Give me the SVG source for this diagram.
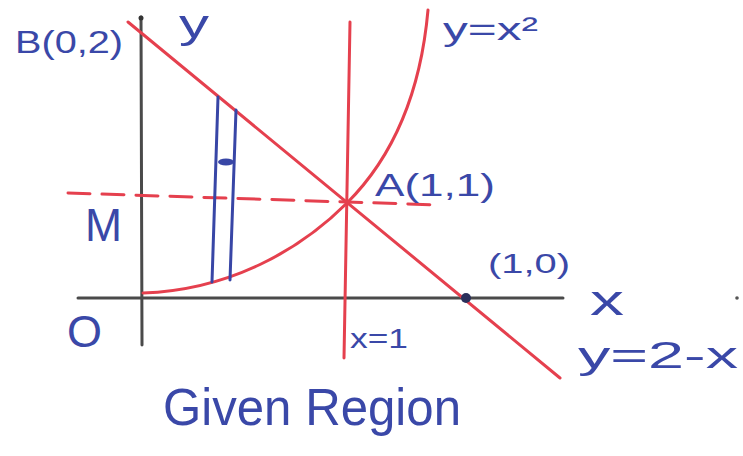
<svg xmlns="http://www.w3.org/2000/svg" width="743" height="456" viewBox="0 0 743 456">
<style>
.ax{stroke:#4a4a4a;stroke-width:3;fill:none;stroke-linecap:round}
.rd{stroke:#e5404e;stroke-width:3;fill:none;stroke-linecap:round}
.bl{stroke:#3846a6;stroke-width:3;fill:none;stroke-linecap:round}
text{font-family:"Liberation Sans",Arial,sans-serif;fill:#3a48a8}
</style>
<rect width="743" height="456" fill="#ffffff"/>
<g id="axes">
<line class="ax" x1="141" y1="17" x2="142" y2="345"/>
<circle cx="141" cy="18" r="2.5" fill="#333"/>
<line class="ax" x1="78" y1="298" x2="563" y2="298"/>
</g>
<g id="curves">
<line class="rd" x1="128" y1="22" x2="560" y2="378"/>
<line class="rd" x1="350" y1="22" x2="344" y2="358"/>
<path class="rd" d="M143,293 C230,290 300,250 347,203 C390,160 420,100 428,10"/>
<path class="rd" d="M68,193 L440,205" stroke-dasharray="22,12"/>
</g>
<g id="strip">
<line class="bl" x1="218" y1="97" x2="212" y2="282"/>
<line class="bl" x1="236" y1="110" x2="230" y2="280"/>
<ellipse cx="226" cy="162" rx="8" ry="3.5" fill="#3846a6"/>
</g>
<g id="points">
<circle cx="466" cy="298" r="5" fill="#2a2f5a"/>
<circle cx="737" cy="298" r="1.8" fill="#555"/>
</g>
<g id="labels">
<text x="15" y="53" font-size="32" textLength="108" lengthAdjust="spacingAndGlyphs">B(0,2)</text>
<text x="179" y="38" font-size="40" textLength="30" lengthAdjust="spacingAndGlyphs">y</text>
<text x="443" y="40" font-size="32" textLength="95" lengthAdjust="spacingAndGlyphs">y=x²</text>
<text x="375" y="196" font-size="32" textLength="120" lengthAdjust="spacingAndGlyphs">A(1,1)</text>
<text x="85" y="241" font-size="46" textLength="37" lengthAdjust="spacingAndGlyphs">M</text>
<text x="590" y="315" font-size="42" textLength="34" lengthAdjust="spacingAndGlyphs">x</text>
<text x="488" y="273" font-size="28" textLength="82" lengthAdjust="spacingAndGlyphs">(1,0)</text>
<text x="67" y="347" font-size="44" textLength="35" lengthAdjust="spacingAndGlyphs">O</text>
<text x="350" y="348" font-size="28" textLength="58" lengthAdjust="spacingAndGlyphs">x=1</text>
<text x="578" y="368" font-size="36" textLength="160" lengthAdjust="spacingAndGlyphs">y=2-x</text>
<text x="163" y="425" font-size="52" textLength="298" lengthAdjust="spacingAndGlyphs">Given Region</text>
</g>
</svg>
